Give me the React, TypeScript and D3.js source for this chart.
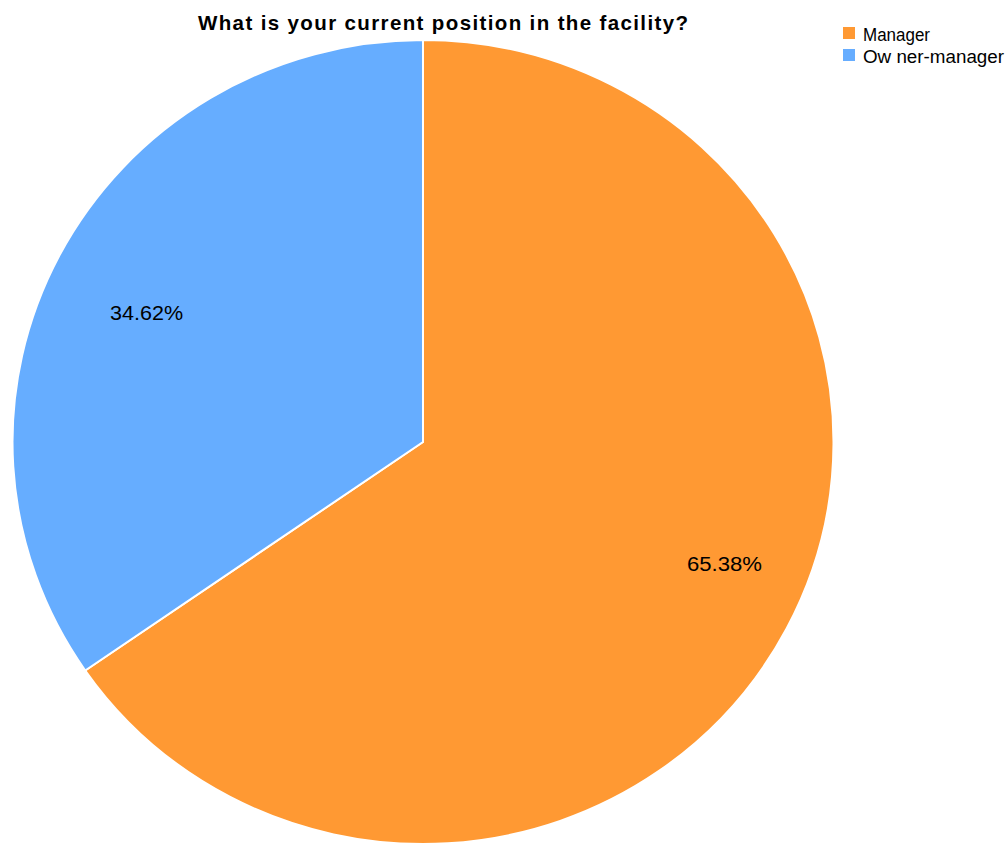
import React from "react";
import * as d3 from "d3";

const categories = ["Manager", "Owner-manager"];
const legendLabels = ["Manager", "Ow ner-manager"];
const values = [65.38, 34.62];
const colors = ["#ff9933", "#66adff"];
const title = "What is your current position in the facility?";

export default function App() {
  const W = 1008, H = 846;
  const cx = 423, cy = 442, rx = 410.5, ry = 402;
  const pie = d3.pie<number>().sort(null).value((d) => d)(values);
  const arc = d3.arc<d3.PieArcDatum<number>>().innerRadius(0).outerRadius(rx);
  const labelR = [0.792, 0.743];
  const labelOff = [-5.7, -2.7];
  const labelW = [75, 73];
  const legendW = [67, 141];
  const font = "'Liberation Sans', Arial, Helvetica, sans-serif";
  return (
    <svg width={W} height={H} style={{ position: "absolute", left: 0, top: 0, background: "#fff" }} fontFamily={font}>
      <g transform={`translate(${cx},${cy}) scale(1,${ry / rx})`}>
        {pie.map((p, i) => (
          <path key={i} d={arc(p) || ""} fill={colors[i]} stroke="#fff" strokeWidth={2} strokeLinejoin="round" />
        ))}
      </g>
      {pie.map((p, i) => {
        const a = (p.startAngle + p.endAngle) / 2 + (labelOff[i] * Math.PI) / 180;
        const x = cx + Math.sin(a) * rx * labelR[i];
        const y = cy - Math.cos(a) * rx * labelR[i];
        return (
          <text key={i} x={x - labelW[i] / 2} y={y + 7} fontSize={20} fill="#000"
            textLength={labelW[i]} lengthAdjust="spacingAndGlyphs">
            {values[i].toFixed(2)}%
          </text>
        );
      })}
      <text x={198} y={30} fontSize={20.5} fontWeight="bold" fill="#000" textLength={490} lengthAdjust="spacing">{title}</text>
      {categories.map((c, i) => (
        <g key={c} transform={`translate(843,${27 + i * 22})`}>
          <rect width={12} height={12} fill={colors[i]} />
          <text x={20} y={13.5} fontSize={17.5} fill="#000" textLength={legendW[i]} lengthAdjust="spacingAndGlyphs">{legendLabels[i]}</text>
        </g>
      ))}
    </svg>
  );
}
